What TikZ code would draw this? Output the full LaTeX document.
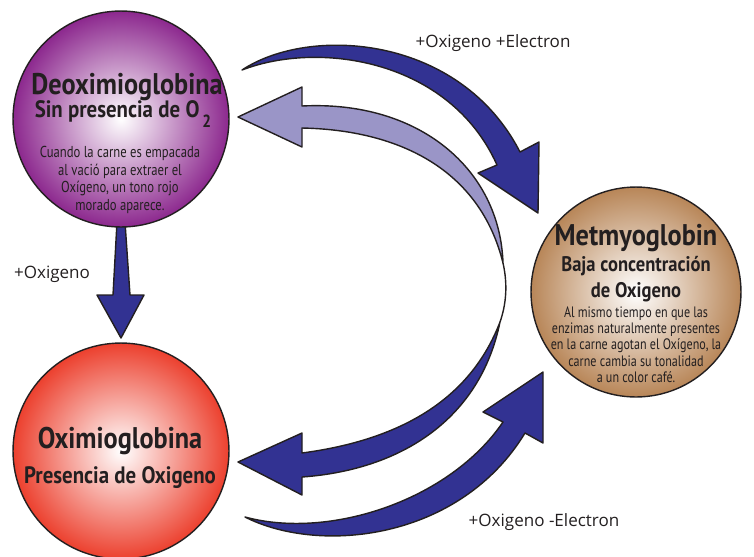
\documentclass[tikz,border=0pt]{standalone}
\usepackage{fontspec}
\setmainfont{Open Sans}
\newfontfamily\condfont[FakeStretch=0.80]{PT Sans}
\newfontfamily\condboldfont[FakeStretch=0.88]{PT Sans}

\definecolor{arrowblue}{RGB}{50,50,146}
\definecolor{arrowlilac}{RGB}{154,149,199}
\definecolor{deoxipurple}{RGB}{140,40,142}
\definecolor{oxired}{RGB}{236,64,46}
\definecolor{metbrown}{RGB}{184,134,88}
\definecolor{inktext}{RGB}{35,31,32}

\tikzset{
  pigment/.style={circle, draw=inktext, line width=0.8pt, inner color=white},
  bigarrow/.style={draw=inktext, line width=0.8pt, line join=round},
  pigmentname/.style={inner sep=0pt, text=inktext, anchor=base,
    font=\condboldfont\bfseries\fontsize{17}{20}\selectfont},
  pigmentsub/.style={inner sep=0pt, text=inktext, anchor=base,
    font=\condboldfont\bfseries\fontsize{13.5}{15}\selectfont},
  pigmentnote/.style={inner sep=0pt, text=inktext, anchor=north, align=center,
    font=\condfont\fontsize{9}{10}\selectfont},
  steplabel/.style={inner sep=0pt, text=inktext, anchor=base,
    font=\fontsize{9.7}{11}\selectfont}
}

\begin{document}
\begin{tikzpicture}[x=0.02cm, y=-0.02cm]
  \useasboundingbox (0,0) rectangle (754,556);

  % top arrow, Deoximioglobina -> Metmyoglobin
  \draw[bigarrow, fill=arrowblue] (242,70) .. controls (310,25) and (460,35) .. (520,152)
    -- (539,142) -- (538,213) -- (478,173) -- (497,165)
    .. controls (450,60) and (320,40) .. (242,70) -- cycle;
  % light arrow back to Deoximioglobina
  \draw[bigarrow, fill=arrowlilac] (503,263) .. controls (500,170) and (420,100) .. (302,106)
    -- (302,87) -- (238,117) -- (302,147) -- (302,128)
    .. controls (400,130) and (480,170) .. (503,263) -- cycle;
  \draw[bigarrow] (503,263) .. controls (508,285) and (506,305) .. (500,322);
  % arrow down to Oximioglobina
  \draw[bigarrow, fill=arrowblue] (500,322) .. controls (480,420) and (400,470) .. (302,477)
    -- (302,495) -- (238,462) -- (302,433) -- (302,453)
    .. controls (400,440) and (470,400) .. (500,322) -- cycle;
  % bottom arrow, Oximioglobina -> Metmyoglobin
  \draw[bigarrow, fill=arrowblue] (245,517) .. controls (320,555) and (460,540) .. (525,433)
    -- (543,443) -- (543,372) -- (483,412) -- (503,422)
    .. controls (450,500) and (330,540) .. (245,517) -- cycle;
  % straight arrow Deoximioglobina -> Oximioglobina
  \draw[bigarrow, fill=arrowblue] (117,222) -- (113,295) -- (97,295) -- (121,338)
    -- (144,295) -- (130,295) -- (125,222) -- cycle;

  % pigments
  \node[pigment, outer color=deoxipurple, minimum size=4.32cm] (deoxi) at (121,119) {};
  \node[pigment, outer color=oxired, minimum size=4.32cm] (oxi) at (121,451) {};
  \node[pigment, outer color=metbrown, minimum size=4.2cm] (met) at (636,292) {};

  % texts
  \node[pigmentname] (deoxiname) at (127,94) {Deoximioglobina};
  \node[pigmentsub] (deoxisub) at (123,117) {Sin presencia de O\raisebox{-6pt}{\fontsize{10}{10}\selectfont\,2}};
  \node[pigmentnote] (deoxinote) at (120,146) {Cuando la carne es empacada\\al vació para extraer el\\Oxígeno, un tono rojo\\morado aparece.};

  \node[pigmentname] (metname) at (636,245) {Metmyoglobin};
  \node[pigmentsub, font=\condboldfont\bfseries\fontsize{12}{15}\selectfont] (metsub) at (636,271) {Baja concentración};
  \node[pigmentsub, font=\condboldfont\bfseries\fontsize{12}{15}\selectfont] (metsubb) at (636,297) {de Oxigeno};
  \node[pigmentnote, font=\condfont\fontsize{8.6}{9.3}\selectfont] (metnote) at (636,306) {Al mismo tiempo en que las\\enzimas naturalmente presentes\\en la carne agotan el Oxígeno, la\\carne cambia su tonalidad\\a un color café.};

  \node[pigmentname] (oxiname) at (120,448) {Oximioglobina};
  \node[pigmentsub] (oxisub) at (120,483) {Presencia de Oxigeno};

  % reaction labels
  \node[steplabel] (lbltop) at (493,47) {+Oxigeno +Electron};
  \node[steplabel] (lbldown) at (52,278) {+Oxigeno};
  \node[steplabel] (lblbottom) at (544,526) {+Oxigeno -Electron};
\end{tikzpicture}
\end{document}
